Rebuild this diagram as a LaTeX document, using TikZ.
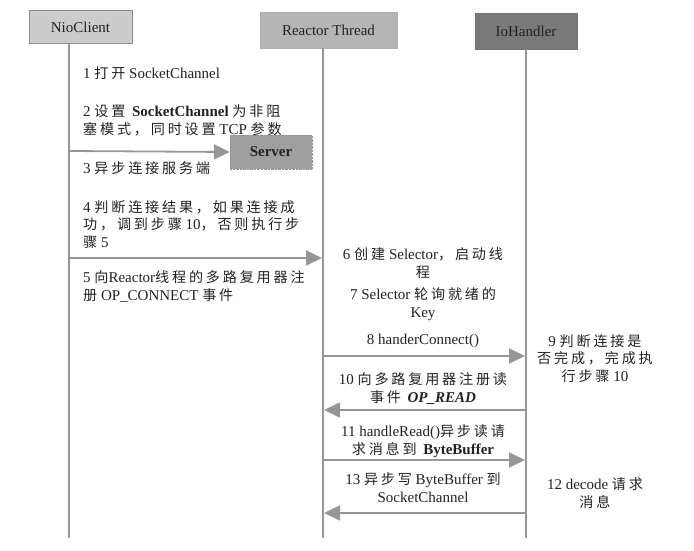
\documentclass[tikz,border=0pt]{standalone}
\usepackage{fontspec}
\setmainfont{Liberation Serif}
\newfontfamily\zhfont[Scale=0.94,LetterSpace=20]{Noto Sans CJK SC}
\usepackage{tikz}
\usetikzlibrary{arrows.meta}
\definecolor{inkgray}{RGB}{34,34,34}
\definecolor{linegray}{RGB}{150,150,150}
\tikzset{
  actorbox/.style={draw, minimum height=33pt, inner sep=0pt,
    font=\fontsize{15}{17}\selectfont, text=inkgray},
  lifeline/.style={linegray, line width=1.5pt},
  msg/.style={linegray, line width=1.8pt,
    -{Triangle[length=16pt,width=15pt]}},
  leftnote/.style={anchor=base west, align=left, inner sep=0pt,
    font=\fontsize{15}{17.5}\selectfont, text=inkgray},
  midnote/.style={anchor=base, align=center, inner sep=0pt,
    font=\fontsize{15}{17.5}\selectfont, text=inkgray},
}
\begin{document}
\begin{tikzpicture}[x=1pt, y=-1pt]
  \useasboundingbox (0,0) rectangle (694,551);

  % Actors
  \node[actorbox, fill=gray!40, draw=gray!90, minimum width=103pt]
    (nio) at (80.5,27) {NioClient};
  \node[actorbox, fill=gray!58, draw=gray!62, minimum width=137pt,
    minimum height=36pt] (reactor) at (328.5,30) {Reactor Thread};
  \node[actorbox, fill=gray!95!black, draw=gray!110, minimum width=102pt,
    minimum height=36pt] (io) at (526,31) {IoHandler};

  % Lifelines
  \coordinate (nioTop) at (69,43);
  \coordinate (nioEnd) at (69,538);
  \coordinate (reactorEnd) at (323,538);
  \coordinate (ioEnd) at (526,538);
  \draw[lifeline] (nioTop) -- (nioEnd);
  \draw[lifeline] (reactor.south -| reactorEnd) -- (reactorEnd);
  \draw[lifeline] (io.south) -- (ioEnd);

  % Server
  \node[draw=gray!85, densely dotted, fill=gray!75, minimum width=82pt,
    minimum height=34pt, font=\fontsize{15}{17}\selectfont\bfseries,
    text=inkgray] (server) at (271,152) {Server};

  % Left column (y = baseline of last line)
  \node[leftnote] (t1) at (83,79) {1 {\zhfont 打开} SocketChannel};
  \node[leftnote] (t2) at (83,134)
    {2 {\zhfont 设置} \textbf{SocketChannel} {\zhfont 为非阻}\\
     {\zhfont 塞模式，同时设置} TCP {\zhfont 参数}};
  \node[leftnote] (t3) at (83,173) {3 {\zhfont 异步连接服务端}};
  \node[leftnote] (t4) at (83,247)
    {4 {\zhfont 判断连接结果，如果连接成}\\
     {\zhfont 功，调到步骤} 10{\zhfont ，否则执行步}\\
     {\zhfont 骤} 5};
  \node[leftnote] (t5) at (83,300)
    {5 {\zhfont 向}Reactor{\zhfont 线程的多路复用器注}\\
     {\zhfont 册} OP\_CONNECT {\zhfont 事件}};

  % Middle column
  \node[midnote] (t6) at (423,277)
    {6 {\zhfont 创建} Selector{\zhfont ，启动线}\\{\zhfont 程}};
  \node[midnote] (t7) at (423,317) {7 Selector {\zhfont 轮询就绪的}\\Key};
  \node[midnote] (t8) at (423,344) {8 handerConnect()};
  \node[midnote] (t10) at (423,402)
    {10 {\zhfont 向多路复用器注册读}\\
     {\zhfont 事件} \textbf{\textit{OP\_READ}}};
  \node[midnote] (t11) at (423,454)
    {11 handleRead(){\zhfont 异步读请}\\
     {\zhfont 求消息到} \textbf{ByteBuffer}};
  \node[midnote] (t13) at (423,502)
    {13 {\zhfont 异步写} ByteBuffer {\zhfont 到}\\SocketChannel};

  % Right column
  \node[midnote] (t9) at (595,381)
    {9 {\zhfont 判断连接是}\\{\zhfont 否完成，完成执}\\{\zhfont 行步骤} 10};
  \node[midnote] (t12) at (595,507) {12 decode {\zhfont 请求}\\{\zhfont 消息}};

  % Messages
  \coordinate (n3) at (69,151);
  \coordinate (n5) at (69,258);
  \coordinate (r5) at (322,258);
  \coordinate (r8) at (323,356);
  \coordinate (i8) at (525,356);
  \coordinate (r10) at (324,410);
  \coordinate (i10) at (526,410);
  \coordinate (r11) at (323,460);
  \coordinate (i11) at (525,460);
  \coordinate (r13) at (324,513);
  \coordinate (i13) at (526,513);
  \draw[msg] (n3) -- (server.west);
  \draw[msg] (n5) -- (r5);
  \draw[msg] (r8) -- (i8);
  \draw[msg] (i10) -- (r10);
  \draw[msg] (r11) -- (i11);
  \draw[msg] (i13) -- (r13);
\end{tikzpicture}
\end{document}
